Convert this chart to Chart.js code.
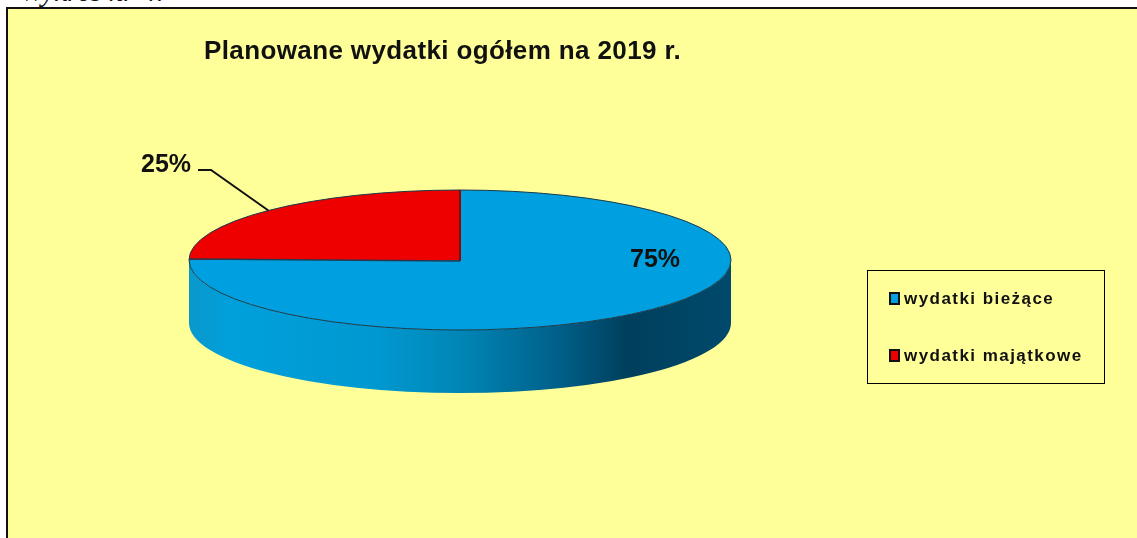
<!DOCTYPE html>
<html lang="pl">
<head>
<meta charset="utf-8">
<title>Wykres nr 4</title>
<script src="https://cdn.jsdelivr.net/npm/chart.js@4"></script>
<style>
  html, body { margin: 0; padding: 0; width: 1137px; height: 538px; overflow: hidden; background: #fff; }
  #caption { position: absolute; left: 20px; top: -25px; font: italic 29px "Liberation Serif", serif; color: #111; white-space: nowrap; }
  #frame { position: absolute; left: 6px; top: 7px; right: 0; bottom: 0; background: #ffff99; border-left: 2px solid #111; border-top: 2px solid #111; }
  #chart-pie { position: absolute; left: 0; top: 0; }
  #title { position: absolute; left: 204px; top: 35px; font: bold 26px "Liberation Sans", Arial, sans-serif; letter-spacing: 0.38px; color: #111; white-space: nowrap; }
  #legend { position: absolute; left: 867px; top: 270px; width: 236px; height: 112px; border: 1px solid #000; font: bold 17px "Liberation Sans", Arial, sans-serif; letter-spacing: 1.45px; color: #111; }
  #legend div { position: absolute; left: 21px; white-space: nowrap; line-height: 20px; }
  #legend i { display: inline-block; width: 7px; height: 9px; border: 2px solid #111; margin-right: 4px; vertical-align: -1px; }
</style>
</head>
<body>
<div id="caption">Wykres nr 4.</div>
<div id="frame"></div>
<canvas id="chart-pie" width="1137" height="538"></canvas>
<div id="title"></div>
<div id="legend"></div>
<script>
const chartTitle = "Planowane wydatki ogółem na 2019 r.";
const categories = ["wydatki bieżące", "wydatki majątkowe"];
const shares = [75, 25];
const sliceColors = ["#00a0e0", "#ee0000"];

// flattening of the pie, the library only draws round ones
const RADIUS_X = 271, RADIUS_Y = 70, DEPTH = 63;

document.getElementById("title").textContent = chartTitle;
const legendEl = document.getElementById("legend");
categories.forEach((name, i) => {
  const row = document.createElement("div");
  row.style.top = (18 + i * 57) + "px";
  row.innerHTML = '<i style="background:' + sliceColors[i] + '"></i>' + name;
  legendEl.appendChild(row);
});

const pie3d = {
  id: "pie3d",
  beforeDatasetDraw(chart) {
    const arc = chart.getDatasetMeta(0).data[0];
    const ctx = chart.ctx, cx = arc.x, cy = arc.y;

    // side wall
    const wall = ctx.createLinearGradient(cx - RADIUS_X, 0, cx + RADIUS_X, 0);
    wall.addColorStop(0, "#0a98cc");
    wall.addColorStop(0.08, "#00a0dc");
    wall.addColorStop(0.35, "#0098d0");
    wall.addColorStop(0.5, "#0086b6");
    wall.addColorStop(0.68, "#00608a");
    wall.addColorStop(0.81, "#003f5c");
    wall.addColorStop(1, "#004a6c");
    ctx.save();
    ctx.beginPath();
    ctx.moveTo(cx + RADIUS_X, cy);
    ctx.ellipse(cx, cy + DEPTH, RADIUS_X, RADIUS_Y, 0, 0, Math.PI, false);
    ctx.lineTo(cx - RADIUS_X, cy);
    ctx.ellipse(cx, cy, RADIUS_X, RADIUS_Y, 0, Math.PI, 0, true);
    ctx.closePath();
    ctx.fillStyle = wall;
    ctx.fill();
    ctx.restore();

    // squash the slices around the pie centre
    ctx.save();
    ctx.translate(cx, cy);
    ctx.scale(RADIUS_X / arc.outerRadius, RADIUS_Y / arc.outerRadius);
    ctx.translate(-cx, -cy);
  },
  afterDatasetDraw(chart) {
    const ctx = chart.ctx;
    ctx.restore();
    const arc = chart.getDatasetMeta(0).data[0];
    const cx = arc.x, cy = arc.y;

    // outlines
    ctx.save();
    ctx.lineWidth = 1;
    ctx.strokeStyle = "#1a3a4a";
    ctx.beginPath();
    ctx.ellipse(cx, cy, RADIUS_X, RADIUS_Y, 0, 0, Math.PI * 2);
    ctx.stroke();
    ctx.strokeStyle = "#7a1010";
    ctx.lineWidth = 2;
    ctx.beginPath();
    ctx.moveTo(cx, cy - RADIUS_Y);
    ctx.lineTo(cx, cy + 1);
    ctx.stroke();
    ctx.strokeStyle = "#203a50";
    ctx.lineWidth = 1.5;
    ctx.beginPath();
    ctx.moveTo(cx, cy + 1);
    ctx.lineTo(cx - RADIUS_X, cy - 1);
    ctx.stroke();

    // leader line of the small slice
    const mid = (chart.getDatasetMeta(0).data[1].startAngle + chart.getDatasetMeta(0).data[1].endAngle) / 2;
    ctx.strokeStyle = "#111";
    ctx.lineWidth = 2;
    ctx.beginPath();
    ctx.moveTo(cx + Math.cos(mid) * RADIUS_X, cy + Math.sin(mid) * RADIUS_Y);
    ctx.lineTo(cx - 249, cy - 90);
    ctx.lineTo(cx - 262, cy - 90);
    ctx.stroke();

    // percent labels
    ctx.fillStyle = "#111";
    ctx.font = 'bold 25px "Liberation Sans", Arial, sans-serif';
    ctx.textAlign = "center";
    ctx.textBaseline = "middle";
    ctx.fillText(shares[0] + "%", cx + 195, cy);
    ctx.fillText(shares[1] + "%", cx - 294, cy - 95);
    ctx.restore();
  }
};

new Chart(document.getElementById("chart-pie"), {
  type: "pie",
  data: {
    labels: categories,
    datasets: [
      {
        data: shares,
        backgroundColor: sliceColors,
        borderWidth: 0,
        clip: false
      }
    ]
  },
  options: {
    responsive: false,
    animation: false,
    layout: {
      padding: { left: 260, right: 477, top: 60, bottom: 78 }
    },
    plugins: {
      legend: { display: false },
      title: { display: false },
      tooltip: { enabled: false }
    }
  },
  plugins: [pie3d]
});
</script>
</body>
</html>
